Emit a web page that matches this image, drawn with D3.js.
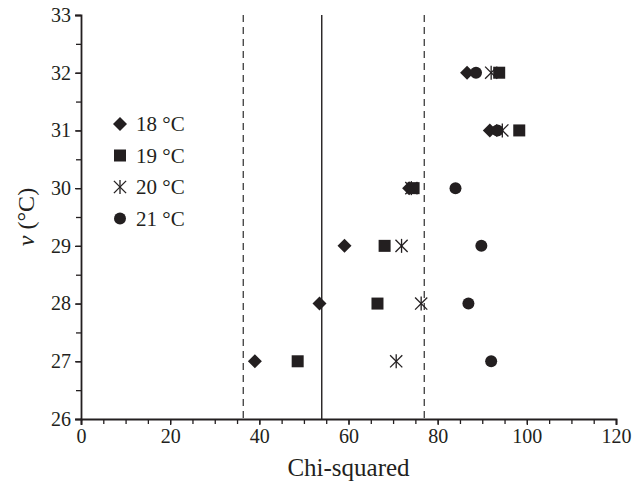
<!DOCTYPE html>
<html>
<head>
<meta charset="utf-8">
<script src="https://cdn.jsdelivr.net/npm/d3@7"></script>
<style>
  html, body { margin: 0; padding: 0; background: #fff; }
  svg text { font-family: "Liberation Serif", "Times New Roman", serif; fill: #231f20; }
</style>
</head>
<body>
<svg id="chart" width="644" height="487"></svg>
<script>
// Temperatures (y) at which each series was evaluated
const temps = [27, 28, 29, 30, 31, 32];

// Chi-squared values per series, aligned with temps
const series18 = [39.0, 53.5, 59.1, 73.6, 91.7, 86.6];
const series19 = [48.6, 66.5, 68.1, 74.6, 98.3, 93.8];
const series20 = [70.7, 76.3, 71.9, 74.1, 94.5, 92.0];
const series21 = [92.0, 86.9, 89.8, 84.0, 93.4, 88.6];

const seriesNames = ["18 °C", "19 °C", "20 °C", "21 °C"];
const seriesShapes = ["diamond", "square", "asterisk", "circle"];

// Reference lines: lower / upper bounds (dashed) and centre (solid)
const refLines = [36.4, 54.0, 77.0];
const refDashed = [true, false, true];

const xTicks = [0, 20, 40, 60, 80, 100, 120];
const yTicks = [26, 27, 28, 29, 30, 31, 32, 33];

const ink = "#231f20";
const svg = d3.select("#chart");
const margin = { left: 81, right: 28, top: 15, bottom: 68 };
const W = 644, H = 487;

const x = d3.scaleLinear().domain([0, 120]).range([margin.left, W - margin.right]);
const y = d3.scaleLinear().domain([26, 33]).range([H - margin.bottom, margin.top]);

// Reference lines
svg.append("g").selectAll("line").data(refLines).join("line")
  .attr("x1", d => x(d)).attr("x2", d => x(d))
  .attr("y1", y(33)).attr("y2", y(26))
  .attr("stroke", (d, i) => refDashed[i] ? "#4a4a4a" : ink)
  .attr("stroke-width", 1.4)
  .attr("stroke-dasharray", (d, i) => refDashed[i] ? "7,5" : null);

// Axes: major ticks with labels, minor ticks in between
const xMinor = d3.range(0, 121, 5);
const yMinor = d3.range(26, 33.01, 0.5);

const gx = svg.append("g").attr("transform", `translate(0,${y(26)})`);
gx.call(d3.axisBottom(x).tickValues(xTicks).tickSize(6).tickPadding(4).tickFormat(d3.format("d")));
gx.append("g").call(d3.axisBottom(x).tickValues(xMinor).tickSize(5).tickFormat(""))
  .select(".domain").remove();

const gy = svg.append("g").attr("transform", `translate(${x(0)},0)`);
gy.call(d3.axisLeft(y).tickValues(yTicks).tickSize(6).tickPadding(4).tickFormat(d3.format("d")));
gy.append("g").call(d3.axisLeft(y).tickValues(yMinor).tickSize(5).tickFormat(""))
  .select(".domain").remove();

[gx, gy].forEach(g => {
  g.selectAll(".domain").attr("stroke", ink).attr("stroke-width", 1.8);
  g.selectAll(".tick line").attr("stroke", ink).attr("stroke-width", 1.3);
  g.selectAll("text").attr("font-size", 20).attr("font-family", "Liberation Serif, serif").attr("fill", ink);
});

// Axis titles
svg.append("text")
  .attr("x", (x(0) + x(120)) / 2).attr("y", 476)
  .attr("text-anchor", "middle").attr("font-size", 25)
  .text("Chi-squared");

const yt = svg.append("text")
  .attr("transform", `translate(34,${(y(26) + y(33)) / 2}) rotate(-90)`)
  .attr("text-anchor", "middle").attr("font-size", 24);
yt.append("tspan").attr("font-style", "italic").text("v");
yt.append("tspan").text(" (°C)");

// Marker drawing
function drawMarker(g, shape) {
  if (shape === "diamond") {
    const r = 7;
    g.append("path").attr("d", `M0,${-r}L${r},0L0,${r}L${-r},0Z`).attr("fill", ink);
  } else if (shape === "square") {
    g.append("rect").attr("x", -6).attr("y", -6).attr("width", 12).attr("height", 12).attr("fill", ink);
  } else if (shape === "circle") {
    g.append("circle").attr("r", 6).attr("fill", ink);
  } else {
    const r = 7;
    const lines = [[0, -r, 0, r], [-r * 0.87, -r * 0.87, r * 0.87, r * 0.87], [-r * 0.87, r * 0.87, r * 0.87, -r * 0.87]];
    lines.forEach(l => g.append("line")
      .attr("x1", l[0]).attr("y1", l[1]).attr("x2", l[2]).attr("y2", l[3])
      .attr("stroke", ink).attr("stroke-width", 1.3));
  }
}

const allSeries = [series18, series19, series20, series21];
allSeries.forEach((vals, si) => {
  const pts = vals.map((v, i) => ({ v, t: temps[i] }));
  svg.append("g").selectAll("g").data(pts).join("g")
    .attr("transform", d => `translate(${x(d.v)},${y(d.t)})`)
    .each(function () { drawMarker(d3.select(this), seriesShapes[si]); });
});

// Legend
const legend = svg.append("g").attr("transform", "translate(120,124)");
seriesNames.forEach((name, i) => {
  const row = legend.append("g").attr("transform", `translate(0,${i * 31.5})`);
  drawMarker(row.append("g"), seriesShapes[i]);
  row.append("text").attr("x", 16).attr("y", 7).attr("font-size", 21).text(name);
});
</script>
</body>
</html>
